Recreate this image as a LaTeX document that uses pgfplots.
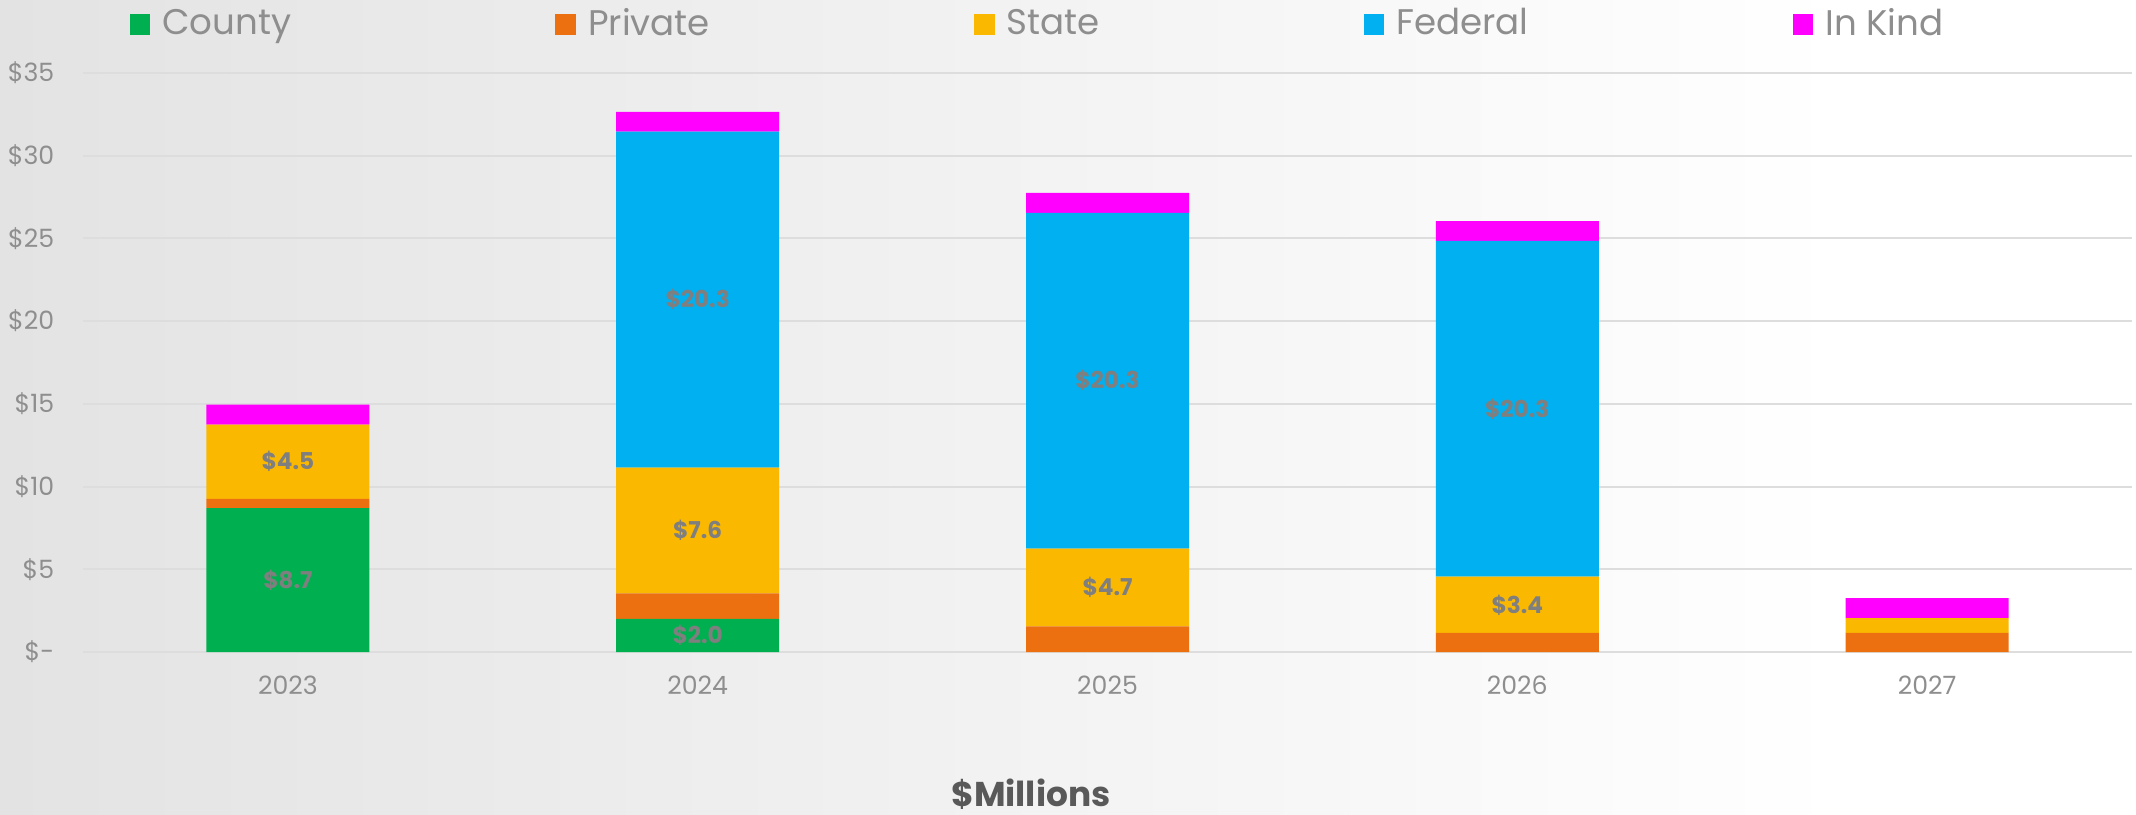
\documentclass[border=0pt]{standalone}
\usepackage{pgfplots}
\pgfplotsset{compat=1.18}
\usepackage{fontspec}
\setmainfont{Poppins}
\definecolor{cCounty}{HTML}{00B050}
\definecolor{cPrivate}{HTML}{EC7010}
\definecolor{cState}{HTML}{FAB800}
\definecolor{cFederal}{HTML}{00B0F0}
\definecolor{cInKind}{HTML}{FF00FF}
\definecolor{gridc}{HTML}{DDDDDD}
\definecolor{ticktext}{HTML}{8E8E8E}
\definecolor{labtext}{HTML}{7F7F7F}
\definecolor{titletext}{HTML}{595959}
\definecolor{bgleft}{HTML}{E3E3E3}
\definecolor{bgmid}{HTML}{F1F1F1}
\begin{document}
\begin{tikzpicture}
\useasboundingbox (-20.75pt,-40.5pt) rectangle (513.25pt,163pt);
\fill[white] (-20.75pt,-40.5pt) rectangle (513.25pt,163pt);
\shade[left color=bgleft, middle color=bgmid, right color=white] (-20.75pt,-40.5pt) rectangle (440pt,163pt);
\begin{axis}[
  at={(0,0)}, anchor=south west,
  scale only axis, width=512.25pt, height=144.75pt,
  ybar stacked, bar width=40.75pt,
  xmin=-0.5, xmax=4.5, ymin=0, ymax=35, enlargelimits=false,
  xtick={0,1,2,3,4}, xticklabels={2023,2024,2025,2026,2027},
  ytick={0,5,10,15,20,25,30,35},
  yticklabels={\$-,\$5,\$10,\$15,\$20,\$25,\$30,\$35},
  major tick length=0pt, tick style={draw=none},
  axis line style={draw=none},
  ymajorgrids, grid style={line width=0.5pt, color=gridc},
  ticklabel style={font=\fontsize{6.3}{7}\selectfont, text=ticktext, inner sep=0pt},
  yticklabel shift=7pt,
  xticklabel shift=5.8pt,
  /pgf/number format/assume math mode=true,
  every axis plot/.append style={draw=none,
    legend image code/.code={\fill[##1] (0pt,-2.6pt) rectangle (5.2pt,2.6pt);}},
  legend columns=5,
  legend style={at={(0.0224,1.0838)}, anchor=west, draw=none, fill=none,
    inner sep=0pt, font=\fontsize{8.9}{10}\selectfont, text=ticktext,
    cells={anchor=west},
    /tikz/every odd column/.append style={column sep=1pt},
    /tikz/every even column/.append style={column sep=64pt}},
]
\addplot[fill=cCounty] coordinates {(0,8.7) (1,2.0) (2,0) (3,0) (4,0)};
\addlegendentry{County}
\addplot[fill=cPrivate] coordinates {(0,0.55) (1,1.55) (2,1.55) (3,1.15) (4,1.15)};
\addlegendentry{Private}
\addplot[fill=cState] coordinates {(0,4.5) (1,7.6) (2,4.7) (3,3.4) (4,0.9)};
\addlegendentry{State}
\addplot[fill=cFederal] coordinates {(0,0) (1,20.3) (2,20.3) (3,20.3) (4,0)};
\addlegendentry{Federal}
\addplot[fill=cInKind] coordinates {(0,1.2) (1,1.2) (2,1.2) (3,1.2) (4,1.2)};
\addlegendentry{In Kind}
\end{axis}
\begin{axis}[
  at={(0,0)}, anchor=south west,
  scale only axis, width=512.25pt, height=144.75pt,
  xmin=-0.5, xmax=4.5, ymin=0, ymax=35, hide axis,
]
\addplot[draw=none, mark=none, nodes near coords, point meta=explicit symbolic,
  every node near coord/.append style={anchor=center, inner sep=0pt,
    font=\fontsize{5.8}{7}\selectfont\bfseries, text=labtext}]
  coordinates {
   (0,4.35) [\$8.7] (1,1.0) [\$2.0]
   (0,11.5) [\$4.5] (1,7.35) [\$7.6] (2,3.9) [\$4.7] (3,2.85) [\$3.4]
   (1,21.3) [\$20.3] (2,16.4) [\$20.3] (3,14.7) [\$20.3]
  };
\end{axis}
\node[anchor=base, font=\fontsize{8.6}{10}\selectfont\bfseries, text=titletext] at (237pt,-38.5pt) {\$Millions};
\end{tikzpicture}
\end{document}
